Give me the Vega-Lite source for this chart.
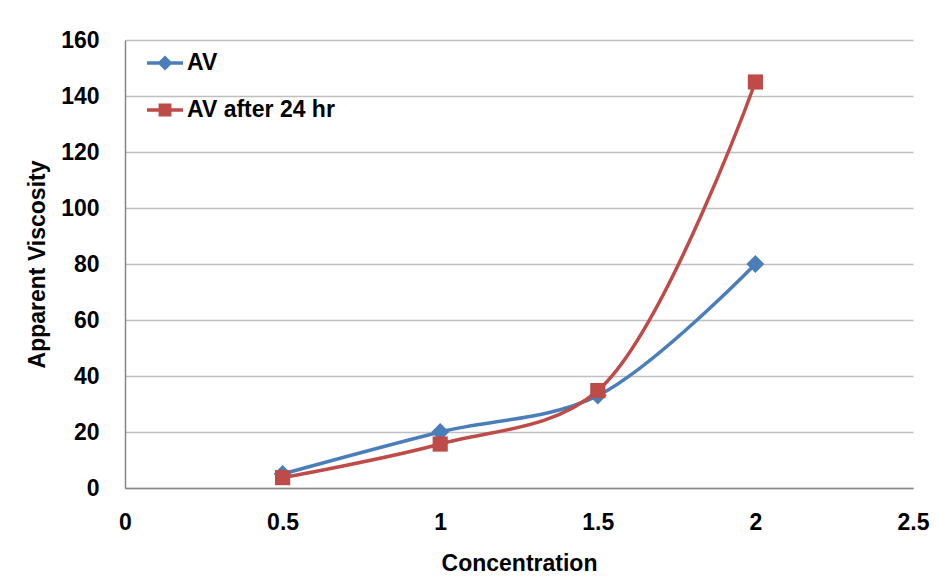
{
  "$schema": "https://vega.github.io/schema/vega-lite/v6.json",
  "width": 788,
  "height": 448,
  "autosize": {"type": "none"},
  "padding": {"left": 125, "top": 40, "right": 26, "bottom": 97},
  "background": "white",
  "config": {
    "font": "Liberation Sans",
    "view": {"stroke": null},
    "axis": {
      "labelFont": "Liberation Sans",
      "labelFontWeight": "bold",
      "labelFontSize": 23,
      "labelColor": "black",
      "titleFont": "Liberation Sans",
      "titleFontWeight": "bold",
      "titleFontSize": 23,
      "titleColor": "black",
      "domainColor": "#868686",
      "domainWidth": 1.5,
      "gridColor": "#bfbfbf",
      "gridWidth": 1.5,
      "ticks": false
    }
  },
  "data": {
    "values": [
      {"conc": 0.5, "value": 5, "series": "AV"},
      {"conc": 1, "value": 20, "series": "AV"},
      {"conc": 1.5, "value": 33, "series": "AV"},
      {"conc": 2, "value": 80, "series": "AV"},
      {"conc": 0.5, "value": 3.7, "series": "AV after 24 hr"},
      {"conc": 1, "value": 15.7, "series": "AV after 24 hr"},
      {"conc": 1.5, "value": 34.8, "series": "AV after 24 hr"},
      {"conc": 2, "value": 145, "series": "AV after 24 hr"}
    ]
  },
  "encoding": {
    "x": {
      "field": "conc",
      "type": "quantitative",
      "scale": {"domain": [0, 2.5], "nice": false},
      "axis": {
        "title": "Concentration",
        "values": [0, 0.5, 1, 1.5, 2, 2.5],
        "format": "~g",
        "labelPadding": 23,
        "titlePadding": 18,
        "grid": false,
        "labelFlush": false
      }
    },
    "y": {
      "field": "value",
      "type": "quantitative",
      "scale": {"domain": [0, 160], "nice": false},
      "axis": {
        "title": "Apparent Viscosity",
        "values": [0, 20, 40, 60, 80, 100, 120, 140, 160],
        "labelPadding": 26,
        "titlePadding": 11
      }
    },
    "color": {
      "field": "series",
      "type": "nominal",
      "scale": {"domain": ["AV", "AV after 24 hr"], "range": ["#4a7ebb", "#be4b48"]},
      "legend": null
    }
  },
  "layer": [
    {
      "mark": {"type": "line", "interpolate": "catmull-rom", "strokeWidth": 3.5},
      "encoding": {
        "color": {
          "field": "series",
          "type": "nominal",
          "legend": {
            "title": null,
            "orient": "none",
            "legendX": 20,
            "legendY": 3,
            "symbolSize": 1296,
            "symbolStrokeWidth": 3.5,
            "symbolType": "M-1,0H1",
            "labelFont": "Liberation Sans",
            "labelFontWeight": "bold",
            "labelFontSize": 23,
            "labelColor": "black",
            "labelOffset": 2,
            "rowPadding": 14,
            "encode": {
              "symbols": {
                "update": {
                  "shape": {"signal": "datum.value === 'AV' ? 'M-1,0H1M0,-0.28L0.28,0L0,0.28L-0.28,0Z' : 'M-1,0H1M-0.26,-0.26H0.26V0.26H-0.26Z'"},
                  "fill": {"signal": "datum.value === 'AV' ? '#4a7ebb' : '#be4b48'"},
                  "stroke": {"signal": "datum.value === 'AV' ? '#4a7ebb' : '#be4b48'"},
                  "strokeWidth": {"value": 3.5},
                  "fillOpacity": {"value": 1},
                  "strokeOpacity": {"value": 1}
                }
              }
            }
          }
        }
      }
    },
    {
      "transform": [{"filter": "datum.series === 'AV'"}],
      "mark": {"type": "point", "filled": true, "opacity": 1, "shape": "diamond", "size": 320}
    },
    {
      "transform": [{"filter": "datum.series !== 'AV'"}],
      "mark": {"type": "point", "filled": true, "opacity": 1, "shape": "square", "size": 230}
    }
  ]
}
